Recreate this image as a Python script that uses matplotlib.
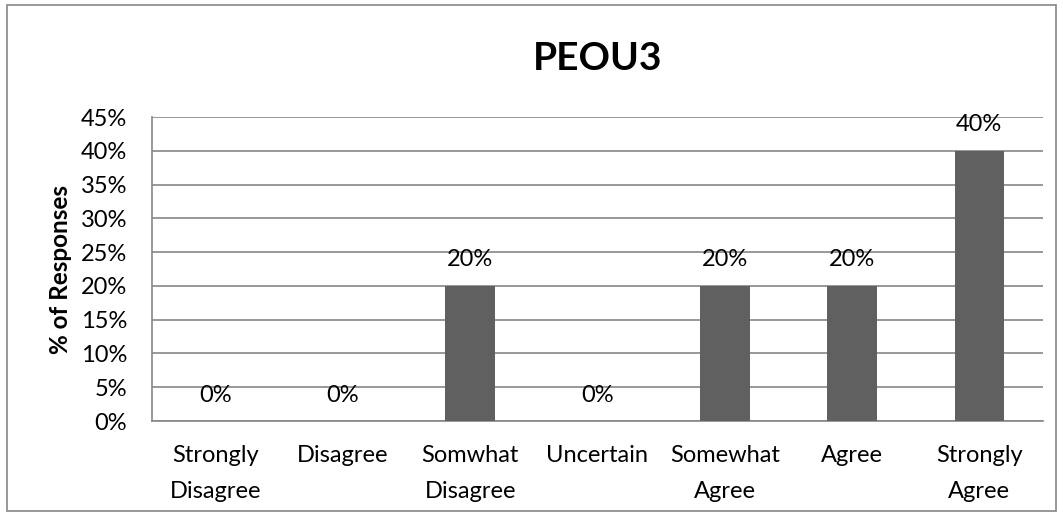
import matplotlib.pyplot as plt
from matplotlib.patches import Rectangle
import numpy as np

plt.rcdefaults()
plt.rcParams['font.family'] = ['Lato', 'DejaVu Sans']

categories = ["Strongly\nDisagree", "Disagree", "Somwhat\nDisagree", "Uncertain",
              "Somewhat\nAgree", "Agree", "Strongly\nAgree"]
values = [0, 0, 20, 0, 20, 20, 40]
yticks = [0, 5, 10, 15, 20, 25, 30, 35, 40, 45]

W, H = 1063, 516
fig = plt.figure(figsize=(W / 100, H / 100), dpi=100)
ax = fig.add_axes([152 / W, 1 - 421 / H, (1043 - 152) / W, (421 - 117) / H])

# outer chart border
fig.patches.append(Rectangle((7 / W, 5 / H), (1056 - 7) / W, (511 - 5) / H,
                             transform=fig.transFigure, fill=False,
                             edgecolor="#868686", linewidth=1.2))

x = np.arange(len(categories))
ax.bar(x, values, width=0.39, color="#606060", zorder=3)

for xi, v in zip(x, values):
    ax.annotate("{}%".format(v), xy=(xi, v), xytext=(0, 14),
                textcoords="offset points", ha="center", va="baseline",
                fontsize=17, color="black", zorder=4)

ax.set_xlim(-0.5, len(categories) - 0.5)
ax.set_ylim(0, 45)
ax.set_yticks(yticks)
ax.set_yticklabels(["{}%".format(t) for t in yticks], fontsize=17)
ax.set_xticks(x)
ax.set_xticklabels(categories, fontsize=17, linespacing=1.9)
ax.tick_params(axis="y", length=0, pad=18)
ax.tick_params(axis="x", length=0, pad=17)

ax.grid(axis="y", color="#868686", linewidth=1.2, zorder=0)
for s in ["top", "right"]:
    ax.spines[s].set_visible(False)
for s in ["left", "bottom"]:
    ax.spines[s].set_color("#868686")
    ax.spines[s].set_linewidth(1.2)

ax.set_ylabel("% of Responses", fontsize=17.5, fontweight="bold", labelpad=6)
fig.text((152 + 1043) / 2 / W, 1 - 58 / H, "PEOU3", ha="center", va="center",
         fontsize=28, fontweight="bold")

fig.savefig("out.png", dpi=100)
